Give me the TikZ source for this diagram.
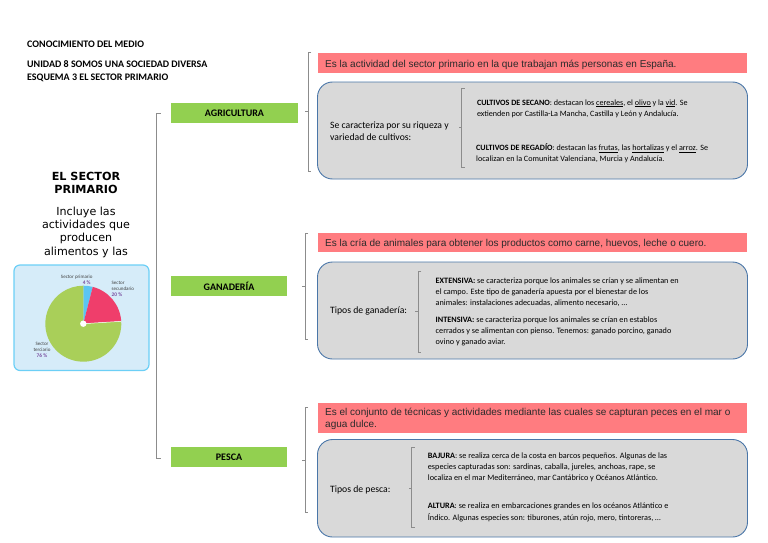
\documentclass[tikz,border=0pt]{standalone}
\usepackage{fontspec}
\setmainfont{Carlito}
\newfontfamily\arialf{Liberation Sans}
\newfontfamily\verdf{DejaVu Sans}
\definecolor{greenbox}{HTML}{92D050}
\definecolor{redbox}{HTML}{FF7C80}
\definecolor{graybox}{HTML}{D9D9D9}
\definecolor{grayborder}{HTML}{4A76A8}
\definecolor{brk}{HTML}{8C8C8C}
\definecolor{piecyan}{HTML}{5BC5F2}
\definecolor{piepink}{HTML}{EF3E6B}
\definecolor{piegreen}{HTML}{A9CF59}
\definecolor{piebg}{HTML}{D6ECF9}
\definecolor{pieborder}{HTML}{6CCFF6}
\definecolor{piepct}{HTML}{7A4FA0}
\definecolor{redtext}{HTML}{2B2B2B}
\newcommand{\lns}[1]{\begin{tabular}[t]{@{}l@{}}#1\end{tabular}}
\newcommand{\brkt}[4]{%
  \draw[bracketline] (#1+3,#2) -- (#1,#2) -- (#1,#3) -- (#1+3,#3);
  \draw[bracketline] (#1,#4) -- (#1-3,#4);}
\tikzset{
  hdr/.style={anchor=base west, inner sep=0, font=\fontsize{10}{11}\selectfont\bfseries},
  greenlbl/.style={fill=greenbox, inner sep=0, font=\fontsize{10}{11}\selectfont\bfseries},
  redlbl/.style={fill=redbox, draw=none},
  redtxt/.style={anchor=base west, inner sep=0, text=redtext, font=\arialf\fontsize{10}{12.3}\selectfont},
  graylbl/.style={fill=graybox, draw=grayborder, line width=0.9pt, rounded corners=15pt},
  lefttxt/.style={anchor=base west, inner sep=0, font=\fontsize{9.7}{11.2}\selectfont},
  smalltxt/.style={anchor=base west, inner sep=0, font=\fontsize{8.1}{11}\selectfont},
  bracketline/.style={draw=brk, line width=0.8pt},
  pielbl/.style={inner sep=0, font=\fontsize{5}{6}\selectfont, text=black!75},
  piepctlbl/.style={inner sep=0, font=\fontsize{5.4}{6}\selectfont\bfseries, text=piepct},
}
\begin{document}
\begin{tikzpicture}[x=1pt,y=-1pt]
\useasboundingbox (0,0) rectangle (768,543);
% header
\node[hdr] (h1) at (27,47.8) {CONOCIMIENTO DEL MEDIO};
\node[hdr] (h2) at (27,67.8) {UNIDAD 8 SOMOS UNA SOCIEDAD DIVERSA};
\node[hdr] (h3) at (27,80.3) {ESQUEMA 3 EL SECTOR PRIMARIO};
% left column
\node[inner sep=0, align=center, font=\verdf\fontsize{11.2}{13.2}\selectfont\bfseries, anchor=north] (title) at (86,171.5) {EL SECTOR\\PRIMARIO};
\node[inner sep=0, align=center, font=\verdf\fontsize{11.1}{13.4}\selectfont, anchor=north] (incl) at (86,206.5) {Incluye las\\actividades que\\producen\\alimentos y las};
% pie box
\draw[fill=piebg, draw=pieborder, line width=1.2pt, rounded corners=6pt] (14,265) rectangle (149,370.5);
\coordinate (pc) at (83.3,323.7);
\fill[piecyan] (pc) -- ++(-90:38) arc[start angle=-90, end angle=-75.6, radius=38] -- cycle;
\fill[piepink] (pc) -- ++(-75.6:38) arc[start angle=-75.6, end angle=-3.6, radius=38] -- cycle;
\fill[piegreen] (pc) -- ++(-3.6:38) arc[start angle=-3.6, end angle=270, radius=38] -- cycle;
\draw[white, line width=0.5pt] (pc) -- ++(-3.6:38);
\fill[white] (pc) circle[radius=3.2];
\node[pielbl] (p1) at (76.7,277) {Sector primario};
\node[piepctlbl] (p1v) at (86.7,282.8) {4 \%};
\node[pielbl, anchor=west] (p2a) at (111.5,282.7) {Sector};
\node[pielbl, anchor=west] (p2b) at (111.5,288.7) {secundario};
\node[piepctlbl, anchor=west] (p2v) at (111.5,294.7) {20 \%};
\node[pielbl] (p3a) at (42,343.7) {Sector};
\node[pielbl] (p3b) at (42,349.3) {terciario};
\node[piepctlbl] (p3v) at (42,355.3) {76 \%};
% main bracket
\draw[bracketline] (160.5,113.3) -- (156.7,113.3) -- (156.7,458.3) -- (160.5,458.3);
% green labels
\node[greenlbl, minimum width=127pt, minimum height=20pt] (agri) at (234.5,113) {AGRICULTURA};
\node[greenlbl, minimum width=116pt, minimum height=20pt] (gana) at (229,286) {GANADERÍA};
\node[greenlbl, minimum width=116pt, minimum height=20pt] (pesca) at (229,457) {PESCA};
% brackets right of green labels
\brkt{308.3}{52.5}{171}{111.5}
\brkt{305}{233.3}{339.5}{286.7}
\brkt{305}{407}{512}{460}
% AGRICULTURA
\fill[redlbl] (318,53) rectangle (747,73);
\node[redtxt] (ra) at (325,67.3) {Es la actividad del sector primario en la que trabajan más personas en España.};
\path[graylbl] (317.5,82) rectangle (747.5,179);
\node[lefttxt] (la) at (330,128.8) {\lns{Se caracteriza por su riqueza y\\variedad de cultivos:}};
\brkt{461.7}{88}{167.3}{127.7}
\node[smalltxt] (sa1) at (476.8,105) {\lns{\textbf{CULTIVOS DE SECANO}: destacan los \underline{cereales}, el \underline{olivo} y la \underline{vid}. Se\\extienden por Castilla-La Mancha, Castilla y León y Andalucía.}};
\node[smalltxt] (sa2) at (476,150.8) {\lns{\textbf{CULTIVOS DE REGADÍO}: destacan las \underline{frutas}, las \underline{hortalizas} y el \underline{arroz}. Se\\localizan en la Comunitat Valenciana, Murcia y Andalucía.}};
% GANADERIA
\fill[redlbl] (318,233) rectangle (747,252);
\node[redtxt] (rg) at (325,246.6) {Es la cría de animales para obtener los productos como carne, huevos, leche o cuero.};
\path[graylbl] (317.5,262) rectangle (747.5,359);
\node[lefttxt] (lg) at (330,313.9) {Tipos de ganadería:};
\brkt{418.3}{271}{352.7}{311}
\node[smalltxt, font=\fontsize{8.2}{10.8}\selectfont] (sg1) at (435.5,283.8) {\lns{\textbf{EXTENSIVA:} se caracteriza porque los animales se crían y se alimentan en\\el campo. Este tipo de ganadería apuesta por el bienestar de los\\animales: instalaciones adecuadas, alimento necesario, …}};
\node[smalltxt, font=\fontsize{8.2}{10.8}\selectfont] (sg2) at (435.5,322.4) {\lns{\textbf{INTENSIVA:} se caracteriza porque los animales se crían en establos\\cerrados y se alimentan con pienso. Tenemos: ganado porcino, ganado\\ovino y ganado aviar.}};
% PESCA
\fill[redlbl] (318,402.5) rectangle (747,433);
\node[redtxt] (rp) at (325,415.2) {\lns{Es el conjunto de técnicas y actividades mediante las cuales se capturan peces en el mar o\\agua dulce.}};
\path[graylbl] (317.5,439.5) rectangle (747.5,537);
\node[lefttxt] (lp) at (330,492.6) {Tipos de pesca:};
\brkt{411.7}{447.3}{527.7}{488.3}
\node[smalltxt, font=\fontsize{8.2}{11.3}\selectfont] (sp1) at (427.7,458) {\lns{\textbf{BAJURA}: se realiza cerca de la costa en barcos pequeños. Algunas de las\\especies capturadas son: sardinas, caballa, jureles, anchoas, rape, se\\localiza en el mar Mediterráneo, mar Cantábrico y Océanos Atlántico.}};
\node[smalltxt, font=\fontsize{8.2}{11.3}\selectfont] (sp2) at (427.7,508.9) {\lns{\textbf{ALTURA}: se realiza en embarcaciones grandes en los océanos Atlántico e\\Índico. Algunas especies son: tiburones, atún rojo, mero, tintoreras, …}};
\end{tikzpicture}
\end{document}
